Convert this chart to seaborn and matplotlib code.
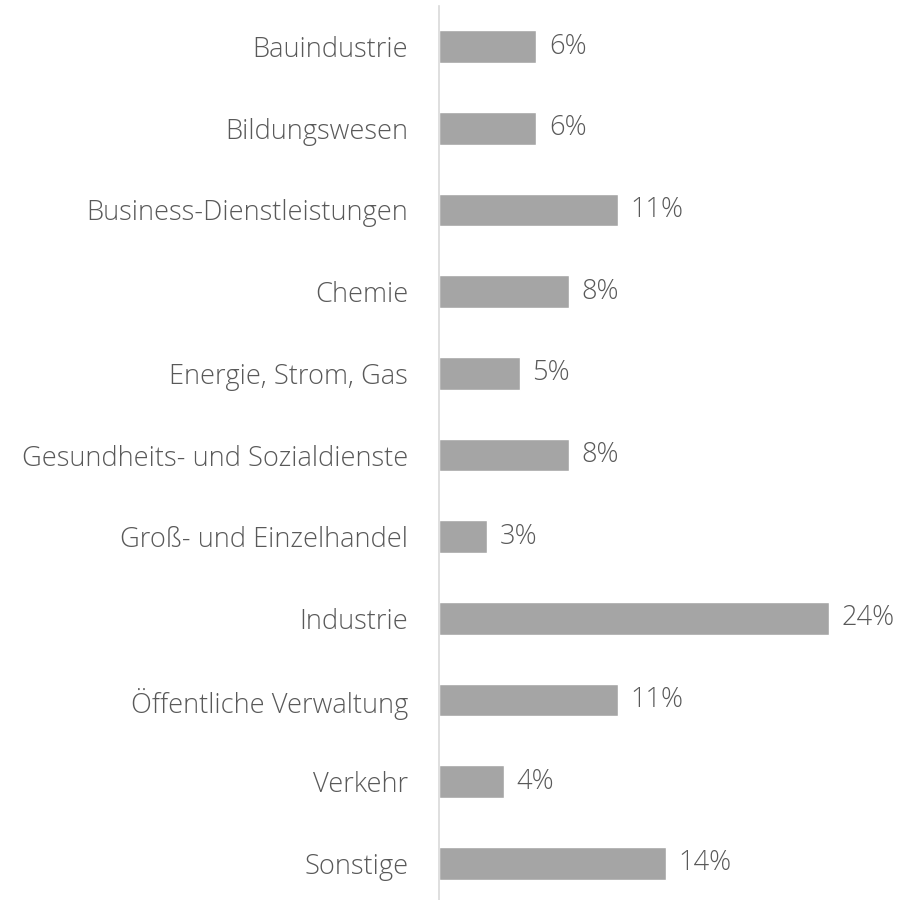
import matplotlib
matplotlib.use("Agg")
import matplotlib.pyplot as plt
import seaborn as sns
import pandas as pd

categories = ["Bauindustrie", "Bildungswesen", "Business-Dienstleistungen", "Chemie",
              "Energie, Strom, Gas", "Gesundheits- und Sozialdienste",
              "Groß- und Einzelhandel", "Industrie", "Öffentliche Verwaltung",
              "Verkehr", "Sonstige"]
values = [6, 6, 11, 8, 5, 8, 3, 24, 11, 4, 14]
value_labels = ["6%", "6%", "11%", "8%", "5%", "8%", "3%", "24%", "11%", "4%", "14%"]

sns.set_theme(style="white")
plt.rcParams['font.family'] = ['Open Sans', 'DejaVu Sans']

df = pd.DataFrame({"Branche": categories, "Anteil": values})

W, H = 902, 900
fig = plt.figure(figsize=(W / 100, H / 100), dpi=100)
x0 = 438.7
ax = fig.add_axes([x0 / W, 0, (W - x0) / W, 894 / H])

sns.barplot(data=df, y="Branche", x="Anteil", orient="h", color="#a5a5a5",
            saturation=1, width=0.40, ax=ax)

ax.set_xlim(0, (W - x0) / 16.26)
ax.set_ylim(10.447, -0.496)
ax.set_xlabel("")
ax.set_ylabel("")
ax.set_xticks([])
ax.tick_params(axis="y", length=0, pad=22)
for lbl in ax.get_yticklabels():
    lbl.set_fontsize(19.6)
    lbl.set_color("#595959")
    lbl.set_fontweight("light")

for s in ["top", "right", "bottom"]:
    ax.spines[s].set_visible(False)
ax.spines["left"].set_color("#d9d9d9")
ax.spines["left"].set_linewidth(1.2)

ax.bar_label(ax.containers[0], labels=value_labels, padding=9, fontsize=19.6,
             color="#595959", fontweight="light")

fig.savefig("out.png", dpi=100)
